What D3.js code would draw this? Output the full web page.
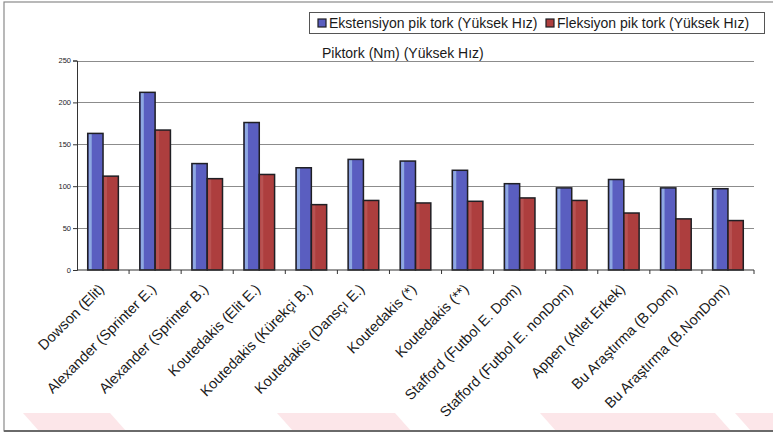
<!DOCTYPE html>
<html>
<head>
<meta charset="utf-8">
<script src="https://cdn.jsdelivr.net/npm/d3@7"></script>
<style>
  html, body { margin: 0; padding: 0; background: #fff; }
  svg { display: block; font-family: "Liberation Sans", Arial, sans-serif; }
</style>
</head>
<body>
<svg id="chart" width="773" height="433"></svg>
<script>
// Study groups (x categories)
const categories = [
  "Dowson (Elit)",
  "Alexander (Sprinter E.)",
  "Alexander (Sprinter B.)",
  "Koutedakis (Elit E.)",
  "Koutedakis (Kürekçi B.)",
  "Koutedakis (Dansçı E.)",
  "Koutedakis (*)",
  "Koutedakis (**)",
  "Stafford (Futbol E. Dom)",
  "Stafford (Futbol E. nonDom)",
  "Appen (Atlet Erkek)",
  "Bu Araştırma (B.Dom)",
  "Bu Araştırma (B.NonDom)"
];

// Peak torque values (Nm), high speed
const extensionValues = [163, 212, 127, 176, 122, 132, 130, 119, 103, 98, 108, 98, 97];
const flexionValues   = [112, 167, 109, 114, 78, 83, 80, 82, 86, 83, 68, 61, 59];

const seriesNames = [
  "Ekstensiyon pik tork (Yüksek Hız)",
  "Fleksiyon pik tork (Yüksek Hız)"
];
const seriesColors = ["#5a5ec0", "#ad3e3e"];
const seriesHighlights = ["#8ea8e2", "#b85252"];

const yTicks = [0, 50, 100, 150, 200, 250];
const chartTitle = "Piktork (Nm) (Yüksek Hız)";

const svg = d3.select("#chart");
const W = 773, H = 433;

// Faint pink stripes along the bottom edge
const stripes = [[23, 110], [277, 395], [540, 715], [735, 790]];
svg.append("g").selectAll("path").data(stripes).join("path")
  .attr("d", d => `M${d[0]},413 L${d[1]},413 L${d[1] + 16},431 L${d[0] + 16},431 Z`)
  .attr("fill", "#fce6e9");

// Outer frame
svg.append("rect")
  .attr("x", 4).attr("y", 2).attr("width", 775).attr("height", 429)
  .attr("fill", "none").attr("stroke", "#8a8a8a").attr("stroke-width", 1.2);
svg.append("line")
  .attr("x1", 4).attr("x2", W).attr("y1", 431).attr("y2", 431)
  .attr("stroke", "#6a6a6a").attr("stroke-width", 2);

const margin = { left: 77, right: 19, top: 60.5, bottom: 163 };
const x0 = d3.scaleBand().domain(categories).range([margin.left, W - margin.right]).padding(0);
const x1 = d3.scaleBand().domain([0, 1]).range([0, x0.step()]).paddingInner(0).paddingOuter(0.7);
const y = d3.scaleLinear().domain([0, 250]).range([H - margin.bottom, margin.top]);

// Gridlines
svg.append("g").selectAll("line").data(yTicks.filter(t => t > 0)).join("line")
  .attr("x1", margin.left).attr("x2", W - margin.right)
  .attr("y1", d => Math.round(y(d)) + 0.5).attr("y2", d => Math.round(y(d)) + 0.5)
  .attr("stroke", "#8c8c8c").attr("stroke-width", 1);

// Bars
const groups = svg.append("g").selectAll("g").data(categories).join("g")
  .attr("transform", d => `translate(${x0(d)},0)`);

groups.each(function (cat, i) {
  const g = d3.select(this);
  const vals = [extensionValues[i], flexionValues[i]];
  vals.forEach((v, s) => {
    const bx = x1(s), bw = x1.bandwidth();
    g.append("rect")
      .attr("x", bx).attr("y", y(v))
      .attr("width", bw).attr("height", y(0) - y(v))
      .attr("fill", seriesColors[s]);
    g.append("rect")
      .attr("x", bx + 1).attr("y", y(v))
      .attr("width", 3).attr("height", y(0) - y(v))
      .attr("fill", seriesHighlights[s]);
    g.append("rect")
      .attr("x", bx).attr("y", y(v))
      .attr("width", bw).attr("height", y(0) - y(v))
      .attr("fill", "none").attr("stroke", "#1f1f24").attr("stroke-width", 1.5);
  });
});

// Y axis
const yAxis = d3.axisLeft(y).tickValues(yTicks).tickSize(4).tickPadding(2);
const yg = svg.append("g").attr("transform", `translate(${margin.left},0)`).call(yAxis);
yg.select(".domain").attr("stroke", "#333").attr("stroke-width", 1);
yg.selectAll(".tick line").attr("stroke", "#333");
yg.selectAll("text").attr("font-size", 7.5).attr("fill", "#222")
  .attr("font-family", "Liberation Sans, Arial, sans-serif");

// X axis with ticks at category boundaries
const xg = svg.append("g").attr("transform", `translate(0,${y(0)})`);
xg.append("line").attr("x1", margin.left).attr("x2", W - margin.right)
  .attr("y1", 0).attr("y2", 0).attr("stroke", "#333").attr("stroke-width", 1.2);
const bounds = categories.map(c => x0(c) + x0.step());
xg.selectAll("line.t").data(bounds).join("line").attr("class", "t")
  .attr("x1", d => d).attr("x2", d => d).attr("y1", 0).attr("y2", 4)
  .attr("stroke", "#333");

// Category labels, rotated
svg.append("g").selectAll("text").data(categories).join("text")
  .attr("transform", d => `translate(${x0(d) + x0.bandwidth() / 2 + 2},${y(0) + 20}) rotate(-45)`)
  .attr("text-anchor", "end")
  .attr("font-size", 14.5)
  .attr("fill", "#1a1a1a")
  .text(d => d);

// Title
svg.append("text")
  .attr("x", 322).attr("y", 58)
  .attr("font-size", 14).attr("fill", "#1a1a1a")
  .text(chartTitle);

// Legend
const lg = svg.append("g");
lg.append("rect").attr("x", 309.5).attr("y", 12.5).attr("width", 455).attr("height", 21)
  .attr("fill", "#fff").attr("stroke", "#555").attr("stroke-width", 1);
const legendX = [318, 546];
seriesNames.forEach((name, s) => {
  lg.append("rect").attr("x", legendX[s]).attr("y", 19).attr("width", 8).attr("height", 8)
    .attr("fill", seriesColors[s]).attr("stroke", "#1f1f24").attr("stroke-width", 1.2);
  lg.append("text").attr("x", legendX[s] + 11).attr("y", 28)
    .attr("font-size", 14).attr("fill", "#1a1a1a").text(name);
});
</script>
</body>
</html>
